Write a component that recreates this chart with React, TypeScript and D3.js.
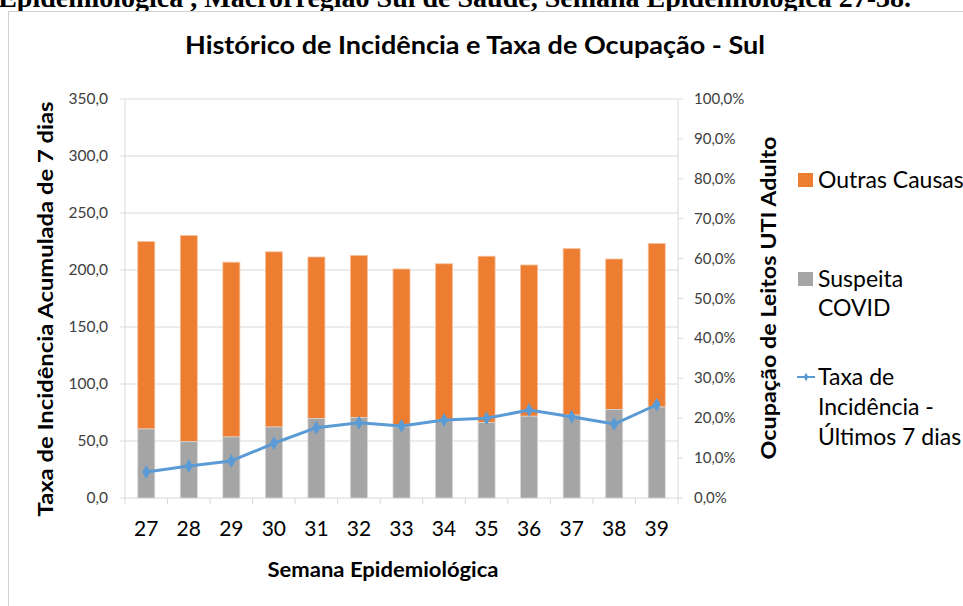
import React from "react";
import * as d3 from "d3";

const weeks = ["27", "28", "29", "30", "31", "32", "33", "34", "35", "36", "37", "38", "39"];
const suspeitaCovid = [17.3, 14.1, 15.3, 17.8, 19.9, 20.2, 17.8, 19.5, 18.9, 20.5, 20.8, 22.2, 22.8];
const outrasCausasTotal = [64.3, 65.8, 59.1, 61.7, 60.4, 60.8, 57.4, 58.7, 60.6, 58.4, 62.5, 59.9, 63.8];
const incidencia = [22.8, 28.1, 32.5, 48.0, 61.7, 66.0, 63.2, 68.4, 69.9, 77.2, 71.3, 64.9, 81.8];
const leftTicks = [0, 50, 100, 150, 200, 250, 300, 350];
const rightTicks = [0, 10, 20, 30, 40, 50, 60, 70, 80, 90, 100];

const FONT = "Lato, 'Open Sans', sans-serif";

export default function App() {
  const W = 963, H = 606;
  const left = 125, right = 678, top = 99, bottom = 498;
  const x = d3.scaleBand<string>().domain(weeks).range([left, right]).paddingInner(0.6).paddingOuter(0.3);
  const xb = d3.scaleBand<string>().domain(weeks).range([left, right]);
  const yL = d3.scaleLinear().domain([0, 350]).range([bottom, top]);
  const yR = d3.scaleLinear().domain([0, 100]).range([bottom, top]);
  const fmt1 = (v: number) => v.toFixed(1).replace(".", ",");
  const line = d3.line<number>().x((_, i) => (xb(weeks[i]) as number) + xb.bandwidth() / 2).y((d) => yL(d));
  const diamond = d3.symbol().type(d3.symbolDiamond).size(56)();
  const LF = 23;

  return (
    <svg width={W} height={H} style={{ position: "absolute", left: 0, top: 0, background: "#fff" }}>
      <text x={911} y={7} textAnchor="end" fontFamily="'Liberation Serif', serif" fontWeight="bold" fontSize={28} fill="#000">
        Epidemiológica , Macrorregião Sul de Saúde, Semana Epidemiológica 27-38.
      </text>
      <rect x={8.5} y={11.5} width={1000} height={700} fill="#fff" stroke="#d0d0d0" />
      <text x={475} y={54} textAnchor="middle" fontFamily={FONT} fontWeight="bold" fontSize={25} textLength={580} lengthAdjust="spacingAndGlyphs" fill="#000">
        Histórico de Incidência e Taxa de Ocupação - Sul
      </text>
      {leftTicks.map((t) => (
        <g key={"l" + t}>
          <line x1={left - 5} x2={right} y1={yL(t)} y2={yL(t)} stroke="#d9d9d9" strokeWidth={1} />
          <text x={108} y={yL(t) + 5} textAnchor="end" fontFamily={FONT} fontSize={15.5} fill="#404040">{fmt1(t)}</text>
        </g>
      ))}
      {rightTicks.map((t) => (
        <g key={"r" + t}>
          <line x1={right} x2={right + 5} y1={yR(t)} y2={yR(t)} stroke="#d9d9d9" />
          <text x={694} y={yR(t) + 5} fontFamily={FONT} fontSize={15} fill="#404040">{fmt1(t) + "%"}</text>
        </g>
      ))}
      <line x1={left} x2={left} y1={top} y2={bottom} stroke="#d9d9d9" />
      <line x1={right} x2={right} y1={top} y2={bottom} stroke="#d9d9d9" />
      {weeks.map((w) => (
        <line key={"xt" + w} x1={xb(w)} x2={xb(w)} y1={bottom} y2={bottom + 6} stroke="#d9d9d9" />
      ))}
      <line x1={right} x2={right} y1={bottom} y2={bottom + 6} stroke="#d9d9d9" />
      {weeks.map((w, i) => (
        <g key={"b" + w}>
          <rect x={x(w)} y={yR(outrasCausasTotal[i])} width={x.bandwidth()} height={yR(suspeitaCovid[i]) - yR(outrasCausasTotal[i])} fill="#ED7D31" stroke="#f6c3a0" strokeWidth={0.8} />
          <rect x={x(w)} y={yR(suspeitaCovid[i])} width={x.bandwidth()} height={bottom - yR(suspeitaCovid[i])} fill="#A5A5A5" stroke="#d6d6d6" strokeWidth={0.8} />
        </g>
      ))}
      <path d={line(incidencia) || ""} fill="none" stroke="#5B9BD5" strokeWidth={3} strokeLinejoin="round" />
      {incidencia.map((v, i) => (
        <path key={"m" + i} d={diamond || ""} transform={`translate(${(xb(weeks[i]) as number) + xb.bandwidth() / 2},${yL(v)})`} fill="#5B9BD5" />
      ))}
      {weeks.map((w) => (
        <text key={"xl" + w} x={(xb(w) as number) + xb.bandwidth() / 2} y={536} textAnchor="middle" fontFamily={FONT} fontSize={21} fill="#000">{w}</text>
      ))}
      <text x={383} y={577} textAnchor="middle" fontFamily={FONT} fontWeight="bold" fontSize={21} textLength={231} lengthAdjust="spacingAndGlyphs" fill="#000">Semana Epidemiológica</text>
      <text transform="translate(53,309) rotate(-90)" textAnchor="middle" fontFamily={FONT} fontWeight="bold" fontSize={21} textLength={415} lengthAdjust="spacingAndGlyphs" fill="#000">Taxa de Incidência  Acumulada de 7 dias</text>
      <text transform="translate(776,298) rotate(-90)" textAnchor="middle" fontFamily={FONT} fontWeight="bold" fontSize={21} textLength={323} lengthAdjust="spacingAndGlyphs" fill="#000">Ocupação de Leitos UTI Adulto</text>
      <rect x={798} y={173} width={15} height={14} fill="#ED7D31" />
      <text x={818} y={188} fontFamily={FONT} fontSize={LF} fill="#000">Outras Causas</text>
      <rect x={798} y={272} width={15} height={14} fill="#A5A5A5" />
      <text x={818} y={287} fontFamily={FONT} fontSize={LF} fill="#000">Suspeita</text>
      <text x={818} y={316} fontFamily={FONT} fontSize={LF} fill="#000">COVID</text>
      <line x1={797} x2={815} y1={377} y2={377} stroke="#5B9BD5" strokeWidth={2} />
      <path d={d3.symbol().type(d3.symbolDiamond).size(20)() || ""} transform="translate(806,377)" fill="#5B9BD5" />
      <text x={818} y={385} fontFamily={FONT} fontSize={LF} fill="#000">Taxa de</text>
      <text x={818} y={415} fontFamily={FONT} fontSize={LF} fill="#000">Incidência -</text>
      <text x={818} y={445} fontFamily={FONT} fontSize={LF} fill="#000">Últimos 7 dias</text>
    </svg>
  );
}
